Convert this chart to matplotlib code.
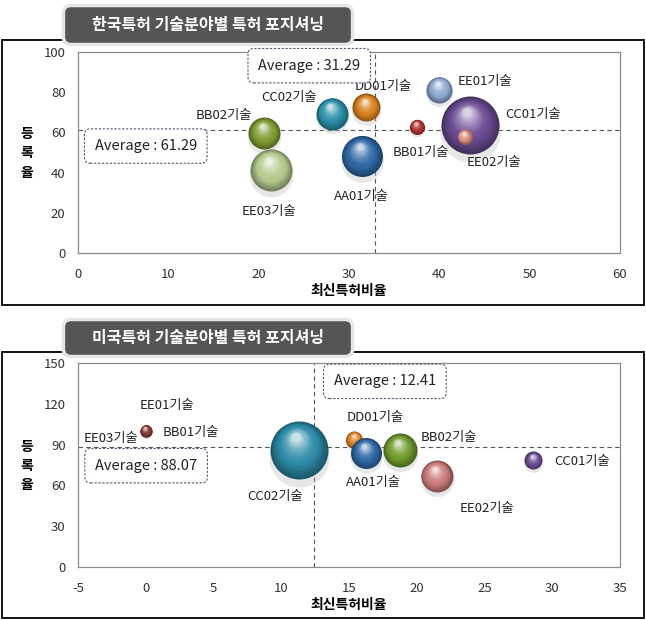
import numpy as np
import matplotlib
matplotlib.use('Agg')
import matplotlib.pyplot as plt
from matplotlib.colors import to_rgb
from matplotlib.patches import Rectangle, FancyBboxPatch
from matplotlib.transforms import offset_copy

plt.rcParams['font.family'] = ['Noto Sans CJK KR', 'DejaVu Sans']
plt.rcParams['axes.unicode_minus'] = False

# ---- 한국특허 ----
kr_names = ['BB02기술', 'EE03기술', 'CC02기술', 'DD01기술', 'AA01기술',
            'BB01기술', 'EE01기술', 'CC01기술', 'EE02기술']
kr_x = [20.6, 21.4, 28.1, 31.9, 31.4, 37.5, 40.0, 43.4, 42.8]
kr_y = [59.5, 41.3, 69.4, 72.4, 48.3, 62.8, 81.3, 63.6, 57.9]
kr_size = [32, 42, 32, 28, 41, 15, 26, 58, 15]
kr_colors = ['#7f9c32', '#b3c98c', '#2b90aa', '#d9801f', '#2f68a6',
             '#b0322e', '#8ea8d2', '#6a4b92', '#d9907e']
kr_label_x = [16.1, 21.1, 23.4, 33.8, 31.4, 38.0, 45.1, 50.4, 46.0]
kr_label_y = [68.6, 20.7, 77.4, 83.0, 28.1, 50.1, 85.5, 69.1, 45.0]
kr_avg_x, kr_avg_y = 32.9, 61.29
kr_avg_text = ['Average : 31.29', 'Average : 61.29']
kr_avg_box = [(25.6, 93.2), (7.5, 53.2)]

# ---- 미국특허 ----
us_names = ['EE01기술', 'EE03기술', 'BB01기술', 'CC02기술', 'DD01기술',
            'AA01기술', 'BB02기술', 'EE02기술', 'CC01기술']
us_x = [0.0, 0.0, 0.0, 11.3, 15.4, 16.25, 18.75, 21.46, 28.6]
us_y = [100.2, 100.2, 100.2, 86.3, 93.6, 83.8, 85.8, 66.7, 78.4]
us_size = [12, 12, 12, 58, 17, 31, 34, 32, 18]
us_colors = ['#8ea8d2', '#b3c98c', '#8a3a36', '#2b8aa5', '#d9801f',
             '#2f68a6', '#6f9a2c', '#c97a7a', '#6a4b92']
us_label_x = [1.6, -2.56, 3.35, 9.54, 16.95, 16.8, 22.4, 25.2, 32.2]
us_label_y = [118.6, 94.4, 99.0, 52.0, 109.6, 61.8, 94.9, 42.9, 77.7]
us_avg_x, us_avg_y = 12.41, 88.07
us_avg_text = ['Average : 12.41', 'Average : 88.07']
us_avg_box = [(17.65, 136.5), (0.03, 74.5)]


def mix(c, t, amt):
    c = np.array(to_rgb(c))
    t = np.array(to_rgb(t))
    return tuple(c + (t - c) * amt)


def sphere(ax, x, y, d, color):
    dpt = d * 0.72
    # shadow
    sh = offset_copy(ax.transData, fig=ax.figure, x=0, y=-dpt * 0.12, units='points')
    ax.scatter([x], [y], s=(dpt * 1.04) ** 2, color='#bbbbbb', alpha=0.35,
               transform=sh, lw=0, zorder=2)
    n = 16
    for i in range(n):
        k = i / (n - 1)
        if k < 0.35:
            col = mix(color, '#000000', 0.35 * (1 - k / 0.35))
        else:
            col = mix(color, '#ffffff', 0.75 * ((k - 0.35) / 0.65) ** 1.6)
        r = dpt * (1 - 0.85 * k)
        tr = offset_copy(ax.transData, fig=ax.figure, x=-dpt * 0.05 * k,
                         y=dpt * 0.22 * k, units='points')
        ax.scatter([x], [y], s=r ** 2, color=col, transform=tr, lw=0, zorder=3)


def panel(ax, names, xs, ys, sizes, colors, lx, ly, ax_v, ay_v, avg_txt, avg_pos,
          xlim, ylim, xticks, yticks):
    ax.set_xlim(xlim)
    ax.set_ylim(ylim)
    ax.set_xticks(xticks)
    ax.set_yticks(yticks)
    ax.tick_params(length=0, labelsize=9.5, colors='#333333')
    ax.tick_params(axis='x', pad=11)
    ax.tick_params(axis='y', pad=9)
    for s in ax.spines.values():
        s.set_color('#8c8c8c')
        s.set_linewidth(0.9)
    ax.axvline(ax_v, color='#555555', lw=0.8, ls=(0, (4, 3)), zorder=1)
    ax.axhline(ay_v, color='#555555', lw=0.8, ls=(0, (4, 3)), zorder=1)
    for x, y, d, c in zip(xs, ys, sizes, colors):
        sphere(ax, x, y, d, c)
    for n, x, y in zip(names, lx, ly):
        ax.text(x, y, n, ha='center', va='center', fontsize=9.5, color='#222222',
                zorder=6)
    for t, (x, y) in zip(avg_txt, avg_pos):
        ax.text(x, y, t, ha='center', va='center', fontsize=10.5, color='#222222',
                zorder=6,
                bbox=dict(boxstyle='round,pad=0.7,rounding_size=0.4', fc='white',
                          ec='#4a5870', lw=0.8, ls=(0, (2, 1.5))))
    ax.set_xlabel('최신특허비율', fontsize=10, fontweight='bold', labelpad=2)


fig = plt.figure(figsize=(6.46, 6.2), dpi=100)
W, H = 646, 620


def fx(px):
    return px / W


def fy(py):
    return 1 - py / H


# outer frames
for top, bot in [(40, 305), (352, 618)]:
    fig.patches.append(Rectangle((fx(2), fy(bot)), fx(642), (bot - top) / H,
                                 transform=fig.transFigure, fill=False,
                                 ec='black', lw=1.3, zorder=0))

ax1 = fig.add_axes([fx(78), fy(253), fx(542), 201 / H])
panel(ax1, kr_names, kr_x, kr_y, kr_size, kr_colors, kr_label_x, kr_label_y,
      kr_avg_x, kr_avg_y, kr_avg_text, kr_avg_box,
      (0, 60), (0, 100), range(0, 61, 10), range(0, 101, 20))

ax2 = fig.add_axes([fx(78), fy(567), fx(542), 204 / H])
panel(ax2, us_names, us_x, us_y, us_size, us_colors, us_label_x, us_label_y,
      us_avg_x, us_avg_y, us_avg_text, us_avg_box,
      (-5, 35), (0, 150), range(-5, 36, 5), range(0, 151, 30))

# y labels (stacked)
for cy in [153, 466]:
    fig.text(fx(27), fy(cy), '등\n록\n율', ha='center', va='center', fontsize=10,
             fontweight='bold', linespacing=1.5)

# title boxes
titles = ['한국특허 기술분야별 특허 포지셔닝', '미국특허 기술분야별 특허 포지셔닝']
for t, (top, bot) in zip(titles, [(8, 42), (322, 354)]):
    fig.patches.append(FancyBboxPatch((fx(66), fy(bot)), fx(284), (bot - top) / H,
                                      boxstyle='round,pad=0.004,rounding_size=0.012',
                                      transform=fig.transFigure, fc='#555555',
                                      ec='#e6e6e6', lw=2.5, zorder=5))
    fig.text(fx(208), fy((top + bot) / 2), t, ha='center', va='center',
             fontsize=11.5, color='white', fontweight='bold', zorder=6)

fig.savefig('out.png', dpi=100)
